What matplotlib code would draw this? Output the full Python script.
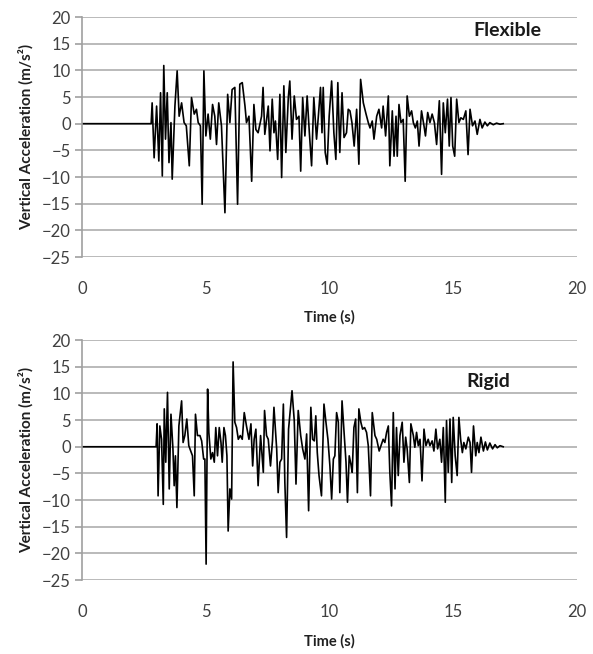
import numpy as np
import matplotlib.pyplot as plt

# Flexible case: time (s) and vertical acceleration (m/s^2)
flex_t = [0.0, 2.80, 2.84, 2.92, 3.02, 3.11, 3.18, 3.25, 3.31, 3.38, 3.45, 3.52, 3.60, 3.65,
          3.76, 3.85, 3.93, 4.03, 4.13, 4.22, 4.34, 4.43, 4.54, 4.63, 4.70, 4.79, 4.86,
          4.93, 5.01, 5.10, 5.19, 5.28, 5.37, 5.44, 5.53, 5.64, 5.78, 5.89, 5.98, 6.07,
          6.18, 6.29, 6.38, 6.48, 6.59, 6.65, 6.75, 6.86, 6.95, 7.03, 7.12, 7.26, 7.32,
          7.39, 7.53, 7.60, 7.69, 7.76, 7.82, 7.91, 8.00, 8.07, 8.16, 8.24, 8.34, 8.40,
          8.49, 8.58, 8.67, 8.77, 8.84, 8.92, 9.01, 9.10, 9.19, 9.28, 9.37, 9.48, 9.56,
          9.64, 9.70, 9.75, 9.83, 9.91, 9.99, 10.09, 10.18, 10.26, 10.34, 10.42, 10.51,
          10.59, 10.69, 10.76, 10.83, 10.91, 11.00, 11.10, 11.19, 11.26, 11.37, 11.48,
          11.57, 11.64, 11.73, 11.80, 11.91, 12.00, 12.11, 12.17, 12.27, 12.38, 12.44,
          12.54, 12.61, 12.69, 12.74, 12.81, 12.89, 12.98, 13.06, 13.14, 13.23, 13.32,
          13.39, 13.47, 13.55, 13.62, 13.72, 13.82, 13.88, 13.97, 14.06, 14.15, 14.24,
          14.33, 14.44, 14.53, 14.60, 14.68, 14.77, 14.84, 14.91, 14.98, 15.06, 15.14,
          15.23, 15.31, 15.41, 15.51, 15.60, 15.68, 15.78, 15.88, 15.97, 16.08, 16.17,
          16.28, 16.38, 16.48, 16.62, 16.75, 16.89, 17.02]
flex_a = [0.0, 0.0, 3.9, -6.4, 3.3, -7.0, 5.8, -9.8, 10.9, -2.9, 5.8, -7.3, 0.2, -10.4,
          3.3, 9.9, 1.4, 3.9, 0.2, -0.4, -7.9, 4.9, 1.8, 2.7, 0.2, -0.4, -15.1,
          9.9, -2.3, 1.8, -2.9, 3.6, 1.4, -3.9, 3.9, -0.4, -16.7, 5.5, 0.2, 6.4,
          6.8, -15.1, 7.4, 7.7, 3.3, 0.2, 1.4, -10.8, 3.6, -1.1, -1.7, 1.4, 6.8,
          -2.0, 3.3, -5.1, 4.6, -1.7, 0.5, -6.7, 5.5, -10.1, 7.1, -5.4, 4.9, 8.0,
          -2.9, 5.2, 0.8, 1.4, -8.9, 4.9, -2.3, 5.2, -1.7, -7.9, 4.9, -2.9, 1.8,
          6.8, -1.7, 6.8, -5.4, -7.6, 1.4, 8.0, -1.7, -6.7, 7.7, -5.4, 5.8,
          -2.6, -1.7, 2.7, 2.4, 0.2, -4.2, 2.7, -7.6, 8.3, 3.9, 1.8,
          0.2, -0.8, 0.5, -2.9, 1.4, 2.7, -0.8, 3.3, -2.3, 5.2, -7.9,
          2.4, -6.1, 1.4, -6.1, 3.6, 0.2, 0.8, -10.8, 5.2, 1.4, 2.4,
          0.2, -0.8, 0.5, -4.2, 2.4, -0.4, -2.3, 2.1, 0.2, 1.8, 0.2,
          -3.9, 4.3, -9.5, 3.9, -1.7, 4.6, -4.2, 4.9, -4.2, -6.1, 4.6,
          0.2, 1.1, 0.8, 2.4, -5.8, 2.7, -0.4, 0.5, -2.0, 0.8, -0.8,
          0.3, -0.4, 0.2, -0.2, 0.1, -0.1, 0.0]

# Rigid case
rigid_t = [0.0, 3.00, 3.04, 3.08, 3.15, 3.22, 3.29, 3.33, 3.39, 3.46, 3.53, 3.60, 3.68, 3.73,
           3.78, 3.84, 3.92, 4.03, 4.09, 4.16, 4.24, 4.32, 4.40, 4.47, 4.54, 4.59, 4.67,
           4.77, 4.84, 4.92, 4.97, 5.02, 5.08, 5.13, 5.21, 5.28, 5.35, 5.41, 5.48, 5.55,
           5.62, 5.67, 5.74, 5.80, 5.86, 5.91, 5.98, 6.05, 6.11, 6.18, 6.25, 6.32, 6.40,
           6.48, 6.56, 6.65, 6.75, 6.83, 6.90, 6.96, 7.03, 7.12, 7.22, 7.33, 7.38, 7.46,
           7.53, 7.62, 7.70, 7.76, 7.87, 7.93, 8.00, 8.07, 8.14, 8.20, 8.27, 8.35, 8.40,
           8.49, 8.58, 8.65, 8.74, 8.84, 8.92, 9.01, 9.08, 9.16, 9.25, 9.32, 9.39, 9.45,
           9.51, 9.58, 9.68, 9.78, 9.86, 9.94, 10.02, 10.09, 10.16, 10.22, 10.29, 10.36,
           10.42, 10.51, 10.59, 10.67, 10.73, 10.80, 10.87, 10.92, 10.99, 11.06, 11.13,
           11.19, 11.27, 11.34, 11.42, 11.50, 11.57, 11.66, 11.73, 11.84, 11.91, 12.01,
           12.17, 12.24, 12.31, 12.38, 12.44, 12.51, 12.58, 12.65, 12.71, 12.78, 12.85,
           12.94, 13.01, 13.08, 13.14, 13.23, 13.29, 13.39, 13.45, 13.52, 13.59, 13.66,
           13.74, 13.82, 13.90, 13.99, 14.06, 14.15, 14.22, 14.30, 14.37, 14.46, 14.53,
           14.60, 14.68, 14.73, 14.80, 14.87, 14.94, 15.00, 15.08, 15.16, 15.23, 15.30,
           15.37, 15.43, 15.51, 15.61, 15.68, 15.74, 15.82, 15.91, 15.97, 16.04, 16.12,
           16.22, 16.30, 16.38, 16.48, 16.59, 16.69, 16.78, 16.89, 17.02]
rigid_a = [0.0, 0.0, 4.3, -9.2, 3.9, 1.4, -10.8, 7.1, -2.9, 10.2, -7.9, 6.1, -0.4, -7.3,
           -1.7, -11.4, 3.9, 8.6, 0.8, 2.1, 5.2, 0.2, -0.8, -1.7, -9.2, 6.1, 2.1,
           2.1, 1.1, -2.3, -2.3, -22.0, 10.8, 2.7, -2.3, -1.1, -2.9, 3.6, -1.7, 3.6,
           0.8, -2.9, 3.6, 2.1, -1.7, -15.8, -7.9, -9.8, 15.9, 4.6, 3.6, 1.4, 2.1,
           1.4, 6.4, 3.9, 1.4, 4.3, -3.6, 1.4, 3.3, -7.3, 2.1, -4.8, 6.8, 2.1,
           1.4, -3.6, 1.1, 7.4, -0.4, -8.6, -2.9, -2.3, 8.0, -6.7, -17.0, 3.3, 5.8,
           10.5, 4.9, -7.0, 6.8, 2.1, -0.4, -2.3, 2.4, -12.0, 7.4, 1.4, 1.1, 5.8,
           -1.1, -5.4, -9.2, 8.0, 4.6, 1.4, -3.6, -9.8, -2.3, -1.7, 6.4, 4.6,
           -8.6, 8.6, 3.0, -2.9, -10.4, -1.7, -3.3, -4.8, 3.6, 5.2, -8.6,
           7.1, 4.6, 3.3, 3.6, 2.7, 0.2, -9.2, 6.4, 2.1, 1.4, -0.8,
           1.4, 0.8, 2.7, 3.9, -4.8, -11.1, 6.4, -7.9, 3.6, -5.4, 2.1,
           4.6, -2.9, 1.8, -0.4, -6.7, 4.3, 2.1, -0.1, 2.7, 0.2, 1.4,
           -6.4, 3.3, 0.2, 1.4, 0.2, 1.1, -0.8, 3.3, -0.4, 1.4, -2.9,
           3.6, -10.4, 4.9, -4.8, 5.2, -6.7, 5.5, -1.7, -5.4, 5.5, 1.4,
           -1.1, 0.8, -0.4, 1.8, 0.8, -4.8, 3.9, -1.7, 0.8, -1.1, 1.8,
           -0.8, 0.9, -0.6, 0.7, -0.4, 0.4, -0.2, 0.2, 0.0]

panels = [("Flexible", flex_t, flex_a, (17.2, 17.5)),
          ("Rigid", rigid_t, rigid_a, (16.4, 12.2))]

plt.rcParams['font.family'] = ['Lato', 'DejaVu Sans']

def main():
    fig = plt.figure(figsize=(5.93, 6.54), dpi=100)
    boxes = [[0.138, 0.607, 0.835, 0.367], [0.138, 0.113, 0.835, 0.367]]
    grey = "#404040"
    for box, (name, t, a, pos) in zip(boxes, panels):
        ax = fig.add_axes(box)
        ax.plot(t, a, color="black", lw=1.2)
        ax.set_xlim(0, 20)
        ax.set_ylim(-25, 20)
        ax.set_xticks(np.arange(0, 21, 5))
        ax.set_yticks(np.arange(-25, 21, 5))
        ax.grid(axis="y", color="#b4b4b4", lw=1.3)
        ax.set_axisbelow(True)
        for s in ["top", "right", "bottom"]:
            ax.spines[s].set_visible(False)
        ax.spines["left"].set_color("#a0a0a0")
        ax.spines["left"].set_linewidth(1.2)
        ax.tick_params(axis="y", length=5, color="#a0a0a0", width=1.2,
                       labelsize=12, labelcolor=grey, pad=3)
        ax.tick_params(axis="x", length=0, labelsize=12, labelcolor=grey, pad=17)
        ax.set_xlabel("Time (s)", fontsize=10.5, fontweight="bold", color="#202020", labelpad=10)
        ax.set_ylabel("Vertical Acceleration (m/s²)", fontsize=11, fontweight="bold",
                      color="#202020", labelpad=6)
        ax.text(pos[0], pos[1], name, fontsize=14, fontweight="bold", color="#1a1a1a",
                ha="center", va="center")
    fig.savefig("out.png", dpi=100)

if __name__ == "__main__":
    main()
